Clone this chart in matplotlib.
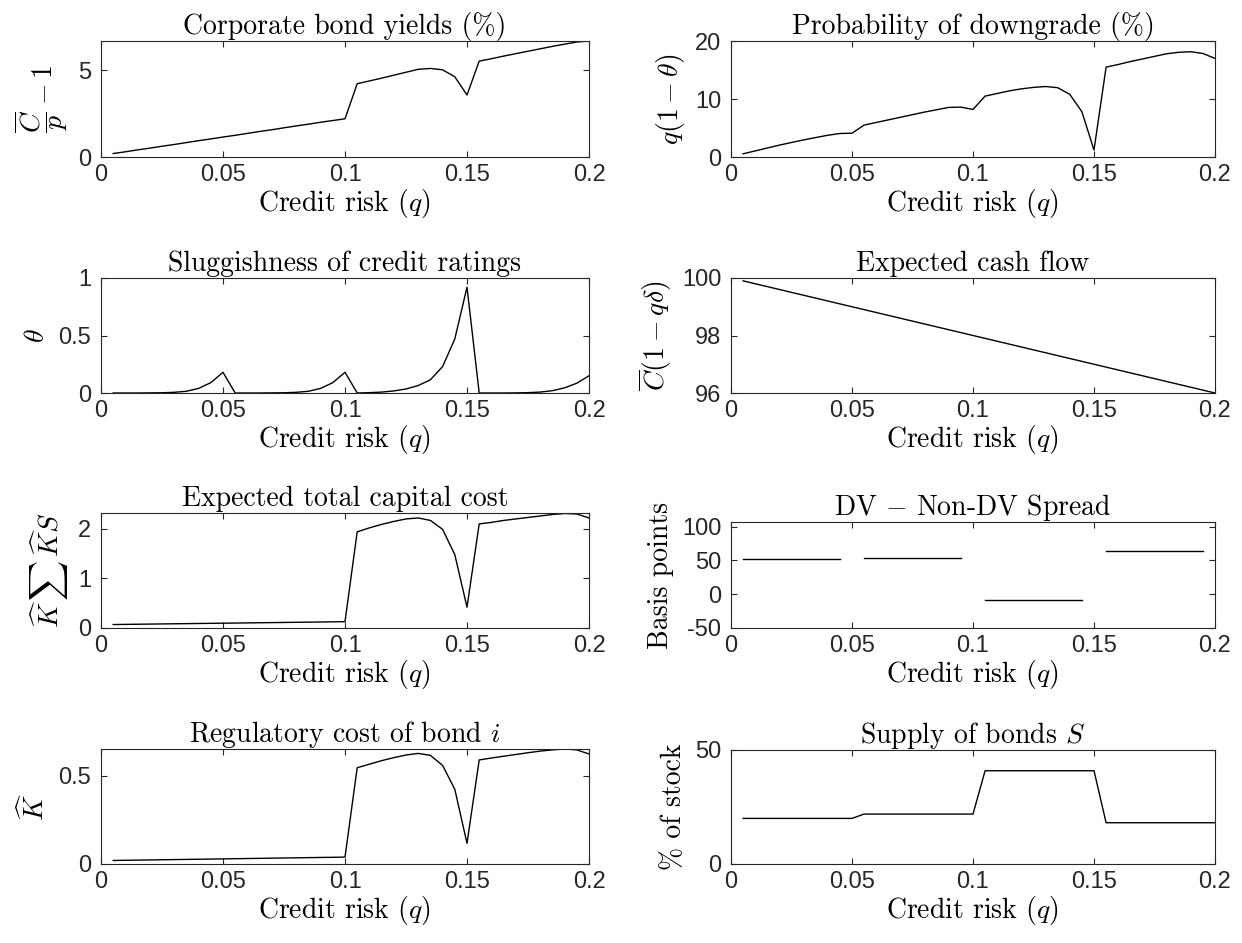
import numpy as np
import matplotlib
matplotlib.use('Agg')
import matplotlib.pyplot as plt

plt.rcParams['font.family'] = 'cmr10'
plt.rcParams['mathtext.fontset'] = 'cm'
plt.rcParams['axes.unicode_minus'] = False

# credit risk grid
q = [0.005, 0.010, 0.015, 0.020, 0.025, 0.030, 0.035, 0.040, 0.045, 0.050,
     0.055, 0.060, 0.065, 0.070, 0.075, 0.080, 0.085, 0.090, 0.095, 0.100,
     0.105, 0.110, 0.115, 0.120, 0.125, 0.130, 0.135, 0.140, 0.145, 0.150,
     0.155, 0.160, 0.165, 0.170, 0.175, 0.180, 0.185, 0.190, 0.195, 0.200]

bond_yield = [0.20, 0.30, 0.41, 0.51, 0.62, 0.72, 0.83, 0.94, 1.04, 1.15,
              1.25, 1.36, 1.47, 1.57, 1.68, 1.79, 1.89, 2.00, 2.10, 2.20,
              4.22, 4.38, 4.54, 4.71, 4.88, 5.05, 5.10, 5.02, 4.62, 3.57,
              5.52, 5.66, 5.81, 5.95, 6.09, 6.23, 6.37, 6.50, 6.62, 6.68]

downgrade = [0.55, 1.05, 1.55, 2.05, 2.50, 2.95, 3.35, 3.75, 4.05, 4.10,
             5.50, 5.95, 6.40, 6.85, 7.30, 7.75, 8.15, 8.55, 8.60, 8.20,
             10.50, 10.95, 11.40, 11.75, 12.00, 12.15, 11.95, 10.80, 7.80, 1.20,
             15.50, 15.95, 16.45, 16.90, 17.35, 17.80, 18.05, 18.15, 17.85, 17.00]

theta = [0.000, 0.000, 0.000, 0.001, 0.002, 0.006, 0.015, 0.040, 0.090, 0.180,
         0.000, 0.000, 0.000, 0.001, 0.002, 0.006, 0.015, 0.040, 0.090, 0.180,
         0.000, 0.003, 0.008, 0.018, 0.035, 0.065, 0.115, 0.230, 0.470, 0.920,
         0.000, 0.000, 0.000, 0.001, 0.003, 0.008, 0.020, 0.045, 0.085, 0.150]

cash_flow = [99.9, 99.8, 99.7, 99.6, 99.5, 99.4, 99.3, 99.2, 99.1, 99.0,
             98.9, 98.8, 98.7, 98.6, 98.5, 98.4, 98.3, 98.2, 98.1, 98.0,
             97.9, 97.8, 97.7, 97.6, 97.5, 97.4, 97.3, 97.2, 97.1, 97.0,
             96.9, 96.8, 96.7, 96.6, 96.5, 96.4, 96.3, 96.2, 96.1, 96.0]

total_cost = [0.070, 0.073, 0.076, 0.079, 0.082, 0.085, 0.088, 0.091, 0.094, 0.097,
              0.100, 0.103, 0.106, 0.109, 0.112, 0.115, 0.118, 0.121, 0.124, 0.128,
              1.94, 2.02, 2.09, 2.15, 2.20, 2.22, 2.17, 1.99, 1.48, 0.42,
              2.10, 2.13, 2.17, 2.20, 2.23, 2.26, 2.29, 2.31, 2.30, 2.22]

spread = [52.5, 52.5, 52.5, 52.5, 52.5, 52.5, 52.5, 52.5, 52.5, np.nan,
          53.5, 53.5, 53.5, 53.5, 53.5, 53.5, 53.5, 53.5, 53.5, np.nan,
          -8.5, -8.5, -8.5, -8.5, -8.5, -8.5, -8.5, -8.5, -8.5, np.nan,
          64.5, 64.5, 64.5, 64.5, 64.5, 64.5, 64.5, 64.5, 64.5, np.nan]

reg_cost = [0.020, 0.021, 0.022, 0.023, 0.024, 0.025, 0.026, 0.027, 0.028, 0.029,
            0.030, 0.031, 0.032, 0.033, 0.034, 0.035, 0.036, 0.037, 0.038, 0.039,
            0.545, 0.565, 0.585, 0.602, 0.617, 0.626, 0.615, 0.558, 0.423, 0.117,
            0.589, 0.600, 0.610, 0.620, 0.630, 0.639, 0.646, 0.651, 0.646, 0.623]

supply = [20.0, 20.0, 20.0, 20.0, 20.0, 20.0, 20.0, 20.0, 20.0, 20.0,
          21.9, 21.9, 21.9, 21.9, 21.9, 21.9, 21.9, 21.9, 21.9, 21.9,
          40.9, 40.9, 40.9, 40.9, 40.9, 40.9, 40.9, 40.9, 40.9, 40.9,
          18.1, 18.1, 18.1, 18.1, 18.1, 18.1, 18.1, 18.1, 18.1, 18.1]

L, R, WID = 101, 731, 484

panels = [
    # (series, title, ylabel, ylim, yticks, rect in pixels)
    (bond_yield, 'Corporate bond yields (%)', r'$\dfrac{\overline{C}}{p}-1$',
     (0, 6.68), [0, 5], [L, 41, 488, 116]),
    (downgrade, 'Probability of downgrade (%)', r'$q(1-\theta)$',
     (0, 20), [0, 10, 20], [R, 41, WID, 116]),
    (theta, 'Sluggishness of credit ratings', r'$\theta$',
     (0, 1), [0, 0.5, 1], [L, 278, 488, 115]),
    (cash_flow, 'Expected cash flow', r'$\overline{C}(1-q\delta)$',
     (96, 100), [96, 98, 100], [R, 278, WID, 115]),
    (total_cost, 'Expected total capital cost',
     r'$\widehat{K}\,\sum\,\widehat{K}S$',
     (0, 2.32), [0, 1, 2], [L, 513, 488, 115]),
    (spread, r'DV $-$ Non-DV Spread', 'Basis points',
     (-50, 107), [-50, 0, 50, 100], [R, 522, WID, 106]),
    (reg_cost, r'Regulatory cost of bond $i$', r'$\widehat{K}$',
     (0, 0.651), [0, 0.5], [L, 749, 488, 115]),
    (supply, r'Supply of bonds $S$', '% of stock',
     (0, 50), [0, 50], [R, 750, WID, 114]),
]

W, H = 1242, 943
fig = plt.figure(figsize=(W / 100, H / 100), dpi=100)

for series, title, ylab, ylim, yticks, (x0, y0, w, h) in panels:
    ax = fig.add_axes([x0 / W, 1 - (y0 + h) / H, w / W, h / H])
    ax.plot(q, series, color='black', linewidth=1.0)
    ax.set_xlim(0, 0.2)
    ax.set_ylim(*ylim)
    ax.set_xticks([0, 0.05, 0.1, 0.15, 0.2])
    ax.set_xticklabels(['0', '0.05', '0.1', '0.15', '0.2'])
    ax.set_yticks(yticks)
    ax.set_yticklabels([f'{t:g}' for t in yticks])
    ax.tick_params(direction='in', length=4, width=0.8, top=True, right=True,
                   labelsize=17, labelfontfamily='Liberation Sans',
                   colors='#262626', labelcolor='#262626')
    ax.tick_params(axis='x', pad=5)
    ax.tick_params(axis='y', pad=7)
    for s in ax.spines.values():
        s.set_color('#262626')
        s.set_linewidth(0.8)
    ax.set_title(title, fontsize=20, pad=5)
    ax.set_xlabel(r'Credit risk ($q$)', fontsize=20, labelpad=1)
    ax.set_ylabel(ylab, fontsize=20, labelpad=6)

fig.savefig('out.png', dpi=100)
